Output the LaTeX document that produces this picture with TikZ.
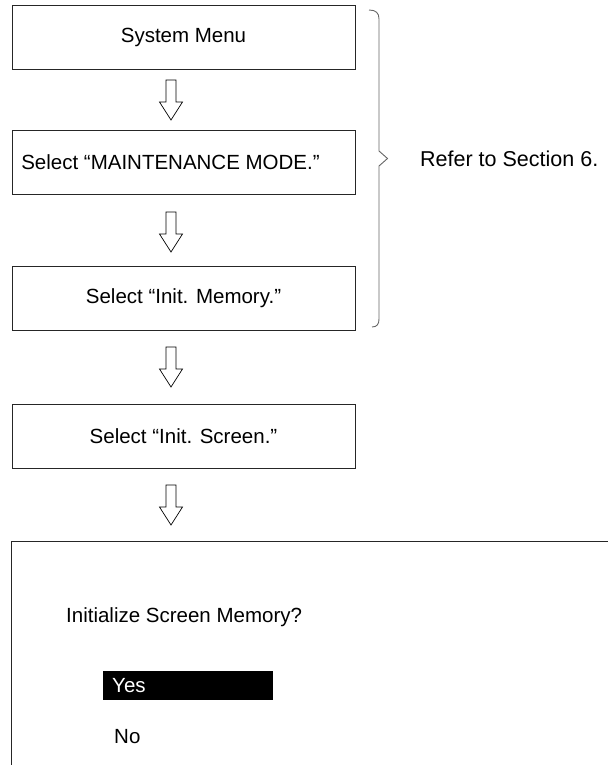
\documentclass[tikz,border=0pt]{standalone}
\usepackage{fontspec}
\setmainfont{Liberation Sans}
\tikzset{
  stepbox/.style={draw=black!85, line width=0.9pt, minimum width=343pt, minimum height=64pt, inner sep=0pt},
  lbl/.style={font=\fontsize{20.5pt}{24pt}\selectfont, inner sep=0pt, text=black},
  bracepath/.style={draw=black!60, line width=0.9pt},
  blockarrow/.pic={\draw[black, line width=0.7pt, line join=miter] (-5,0) -- (5,0) -- (5,22) -- (11.5,22) -- (0,40) -- (-11.5,22) -- (-5,22) -- cycle;}
}
\begin{document}
\begin{tikzpicture}[x=1pt,y=-1pt]
\useasboundingbox (0,0) rectangle (608,765);
% step boxes
\node[stepbox] (b1) at (183.5,37) {};
\node[stepbox] (b2) at (183.5,162) {};
\node[stepbox] (b3) at (183.5,298) {};
\node[stepbox] (b4) at (183.5,436) {};
\node[lbl] (t1) at (b1.center) {System Menu};
\node[lbl] (t2) at (170.5,162) {Select “MAINTENANCE MODE.”};
\node[lbl] (t3) at (b3.center) {Select “Init. Memory.”};
\node[lbl] (t4) at (b4.center) {Select “Init. Screen.”};
% open block arrows
\pic at (171,80) {blockarrow};
\pic at (171,212) {blockarrow};
\pic at (171,347) {blockarrow};
\pic at (171,485) {blockarrow};
% brace
\coordinate (brtop) at (369,10);
\coordinate (brtip) at (387.5,158.5);
\coordinate (brbot) at (372,327);
\path[bracepath] (brtop) .. controls (376,10) and (379,13) .. (379,19) -- (379,151) -- (brtip) -- (379,166) -- (379,319) .. controls (379,324) and (377,327) .. (brbot);
\node[lbl, anchor=west, font=\fontsize{21.5pt}{25pt}\selectfont] (refer) at (420,158.5) {Refer to Section 6.};
% screen box
\coordinate (sbl) at (11,765);
\coordinate (stl) at (11,541);
\coordinate (str) at (608,541);
\draw[black!85, line width=0.9pt] (sbl) -- (stl) -- (str);
\node[lbl, anchor=west] (q) at (66,617) {Initialize Screen Memory?};
\fill[black] (103,671) rectangle (273,700);
\node[lbl, anchor=west, text=white] (yes) at (112,685.5) {Yes};
\node[lbl, anchor=west] (no) at (114,737) {No};
\end{tikzpicture}
\end{document}
